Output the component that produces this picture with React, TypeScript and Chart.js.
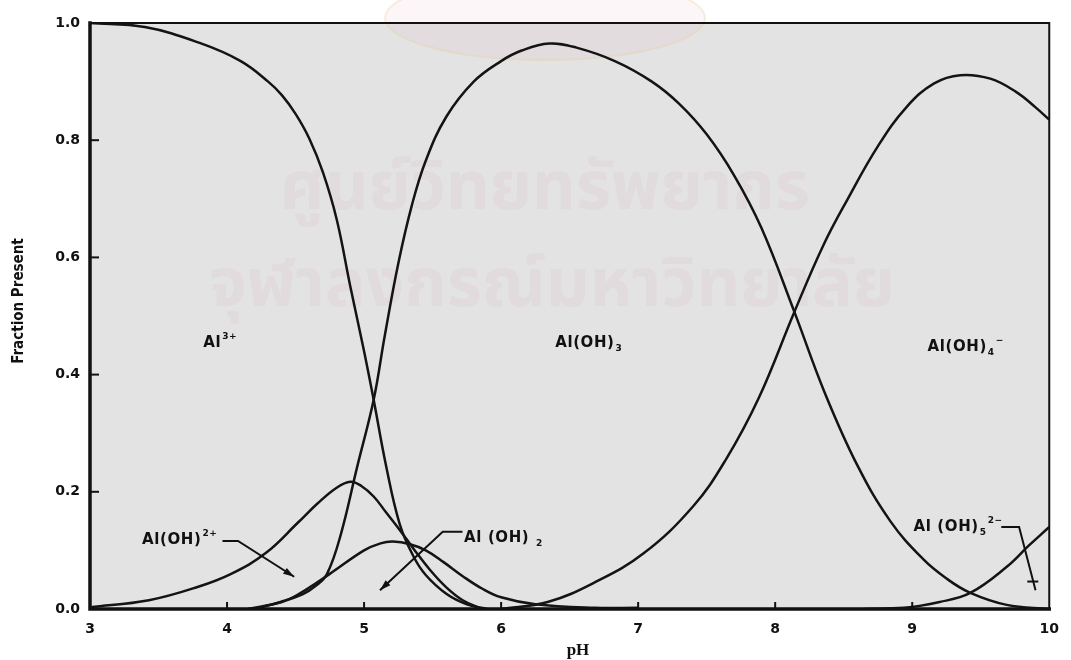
import { useEffect, useRef } from "react";
import { Chart, registerables } from "chart.js";

Chart.register(...registerables);

// Axis ticks
const phTicks = [3, 4, 5, 6, 7, 8, 9, 10];
const fractionTicks = [0, 0.2, 0.4, 0.6, 0.8, 1.0];

// Al3+
const al3pH = [3.0, 3.4, 3.8, 4.1, 4.3, 4.4, 4.5, 4.6, 4.7, 4.8, 4.9, 5.0, 5.07, 5.16, 5.26, 5.36, 5.45, 5.6, 5.75, 5.9];
const al3Frac = [1.0, 0.993, 0.966, 0.935, 0.9, 0.877, 0.845, 0.803, 0.745, 0.665, 0.55, 0.44, 0.357, 0.245, 0.145, 0.09, 0.058, 0.026, 0.008, 0.0];

// Al(OH)2+
const alOH2pH = [3.0, 3.43, 3.79, 4.03, 4.28, 4.52, 4.66, 4.8, 4.9, 4.98, 5.07, 5.16, 5.26, 5.37, 5.48, 5.6, 5.72, 5.86];
const alOH2Frac = [0.003, 0.015, 0.038, 0.06, 0.095, 0.148, 0.18, 0.207, 0.217, 0.21, 0.192, 0.165, 0.135, 0.1, 0.067, 0.037, 0.015, 0.0];

// Al(OH)2+ (dihydroxo)
const alOH2bpH = [4.15, 4.4, 4.52, 4.75, 5.0, 5.12, 5.21, 5.33, 5.45, 5.58, 5.72, 5.86, 6.0, 6.25, 6.68, 7.0];
const alOH2bFrac = [0.0, 0.012, 0.025, 0.06, 0.1, 0.112, 0.115, 0.111, 0.1, 0.08, 0.056, 0.035, 0.02, 0.008, 0.002, 0.002];

// Al(OH)3
const alOH3pH = [4.2, 4.39, 4.55, 4.65, 4.73, 4.83, 4.95, 5.07, 5.15, 5.25, 5.35, 5.45, 5.6, 5.8, 6.0, 6.15, 6.35, 6.55, 6.83, 7.1, 7.3, 7.5, 7.7, 7.9, 8.14, 8.36, 8.6, 8.84, 9.08, 9.25, 9.42, 9.69, 10.0];
const alOH3Frac = [0.0, 0.012, 0.025, 0.04, 0.06, 0.127, 0.243, 0.357, 0.465, 0.59, 0.69, 0.765, 0.84, 0.9, 0.935, 0.953, 0.965, 0.958, 0.935, 0.9, 0.862, 0.81, 0.74, 0.65, 0.507, 0.37, 0.245, 0.15, 0.085, 0.052, 0.028, 0.007, 0.0];

// Al(OH)4-
const alOH4pH = [6.0, 6.34, 6.68, 7.04, 7.4, 7.64, 7.88, 8.14, 8.35, 8.53, 8.75, 8.96, 9.16, 9.35, 9.57, 9.76, 9.9, 10.0];
const alOH4Frac = [0.0, 0.012, 0.045, 0.095, 0.175, 0.255, 0.36, 0.507, 0.62, 0.7, 0.79, 0.857, 0.897, 0.911, 0.905, 0.882, 0.856, 0.835];

// Al(OH)5 2-
const alOH5pH = [8.65, 8.94, 9.2, 9.42, 9.69, 9.85, 10.0];
const alOH5Frac = [0.0, 0.002, 0.012, 0.027, 0.072, 0.108, 0.14];

const seriesList = [
  { pH: al3pH, frac: al3Frac },
  { pH: alOH2pH, frac: alOH2Frac },
  { pH: alOH2bpH, frac: alOH2bFrac },
  { pH: alOH3pH, frac: alOH3Frac },
  { pH: alOH4pH, frac: alOH4Frac },
  { pH: alOH5pH, frac: alOH5Frac },
];

const LABEL_FONT = "'DejaVu Sans', 'Liberation Sans', sans-serif";
const TICK_FONT = "'DejaVu Sans', 'Liberation Sans', sans-serif";

type Part = [string, number];

// Species labels, anchored in data units (pH, fraction)
const speciesLabels: { parts: Part[]; x: number; y: number; align: "left" | "center" }[] = [
  { parts: [["Al", 0], ["3+", 1]], x: 3.95, y: 0.454, align: "center" },
  { parts: [["Al(OH)", 0], ["3", -1]], x: 6.64, y: 0.454, align: "center" },
  { parts: [["Al(OH)", 0], ["4", -1], ["\u2212", 1]], x: 9.39, y: 0.447, align: "center" },
  { parts: [["Al(OH)", 0], ["2+", 1]], x: 3.38, y: 0.118, align: "left" },
  { parts: [["Al (OH) ", 0], ["2", -1]], x: 5.73, y: 0.121, align: "left" },
  { parts: [["Al (OH)", 0], ["5", -1], ["2\u2212", 1]], x: 9.01, y: 0.14, align: "left" },
];

// Leader lines with heads: polyline in data units, last point is the tip
const leaders: { pts: [number, number][]; head: "arrow" | "tee" }[] = [
  { pts: [[3.967, 0.116], [4.08, 0.116], [4.49, 0.055]], head: "arrow" },
  { pts: [[5.718, 0.132], [5.574, 0.132], [5.116, 0.032]], head: "arrow" },
  { pts: [[9.65, 0.14], [9.78, 0.14], [9.9, 0.032]], head: "tee" },
];

function drawChem(ctx: any, parts: Part[], x: number, y: number, size: number, align: string) {
  const small = Math.round(size * 0.62);
  ctx.letterSpacing = "0.6px";
  const fontOf = (p: Part) => `bold ${p[1] === 0 ? size : small}px ${LABEL_FONT}`;
  let total = 0;
  parts.forEach((p) => {
    ctx.font = fontOf(p);
    total += ctx.measureText(p[0]).width + (p[1] !== 0 ? 1 : 0);
  });
  let cx = align === "center" ? x - total / 2 : x;
  ctx.textBaseline = "middle";
  ctx.textAlign = "left";
  parts.forEach((p) => {
    ctx.font = fontOf(p);
    const dy = p[1] === 1 ? -size * 0.42 : p[1] === -1 ? size * 0.38 : 0;
    ctx.fillText(p[0], cx + (p[1] !== 0 ? 1 : 0), y + dy);
    cx += ctx.measureText(p[0]).width + (p[1] !== 0 ? 1 : 0);
  });
  ctx.letterSpacing = "0px";
}

const paperPlugin = {
  id: "paper",
  beforeDraw(chart: any) {
    const { ctx, chartArea: a } = chart;
    ctx.save();
    ctx.fillStyle = "#ffffff";
    ctx.fillRect(0, 0, chart.width, chart.height);
    ctx.fillStyle = "#e3e3e3";
    ctx.fillRect(a.left, a.top, a.right - a.left, a.bottom - a.top);
    // faint library stamp
    ctx.fillStyle = "rgba(230, 170, 200, 0.10)";
    ctx.strokeStyle = "rgba(230, 205, 150, 0.30)";
    ctx.lineWidth = 2;
    ctx.beginPath();
    ctx.ellipse(545, 18, 160, 42, 0, 0, Math.PI * 2);
    ctx.fill();
    ctx.stroke();
    ctx.fillStyle = "rgba(200, 120, 160, 0.07)";
    ctx.textAlign = "center";
    ctx.textBaseline = "middle";
    ctx.font = "bold 68px 'Noto Sans Thai', 'Noto Sans', sans-serif";
    ctx.fillText("ศูนย์วิทยทรัพยากร", 545, 195);
    ctx.fillText("จุฬาลงกรณ์มหาวิทยาลัย", 552, 292);
    ctx.restore();
  },
  afterDatasetsDraw(chart: any) {
    const { ctx, chartArea: a, scales } = chart;
    const xs = scales.x;
    const ys = scales.y;
    ctx.save();
    ctx.strokeStyle = "#111";
    ctx.lineCap = "square";
    // frame
    ctx.lineWidth = 2;
    ctx.beginPath();
    ctx.moveTo(a.left, a.top);
    ctx.lineTo(a.right, a.top);
    ctx.lineTo(a.right, a.bottom);
    ctx.stroke();
    ctx.lineWidth = 3.5;
    ctx.beginPath();
    ctx.moveTo(a.left, a.top);
    ctx.lineTo(a.left, a.bottom);
    ctx.lineTo(a.right, a.bottom);
    ctx.stroke();
    // inward tick marks
    ctx.lineWidth = 2;
    fractionTicks.forEach((v) => {
      if (v <= 0 || v >= 1) return;
      const py = ys.getPixelForValue(v);
      ctx.beginPath();
      ctx.moveTo(a.left, py);
      ctx.lineTo(a.left + 8, py);
      ctx.stroke();
    });
    phTicks.forEach((v) => {
      if (v <= 3 || v >= 10) return;
      const px = xs.getPixelForValue(v);
      ctx.beginPath();
      ctx.moveTo(px, a.bottom);
      ctx.lineTo(px, a.bottom - 6);
      ctx.stroke();
    });

    // leader lines
    ctx.lineWidth = 2;
    ctx.lineCap = "butt";
    ctx.fillStyle = "#111";
    leaders.forEach((ld) => {
      const pts = ld.pts.map(([x, y]) => [xs.getPixelForValue(x), ys.getPixelForValue(y)]);
      ctx.beginPath();
      pts.forEach(([x, y], i) => (i === 0 ? ctx.moveTo(x, y) : ctx.lineTo(x, y)));
      ctx.stroke();
      const [tx, ty] = pts[pts.length - 1];
      const [fx, fy] = pts[pts.length - 2];
      const ang = Math.atan2(ty - fy, tx - fx);
      if (ld.head === "arrow") {
        const len = 11, half = 3.5;
        ctx.beginPath();
        ctx.moveTo(tx, ty);
        ctx.lineTo(tx - len * Math.cos(ang) + half * Math.sin(ang), ty - len * Math.sin(ang) - half * Math.cos(ang));
        ctx.lineTo(tx - len * Math.cos(ang) - half * Math.sin(ang), ty - len * Math.sin(ang) + half * Math.cos(ang));
        ctx.closePath();
        ctx.fill();
      } else {
        const bx = tx - 9 * Math.cos(ang);
        const by = ty - 9 * Math.sin(ang);
        ctx.beginPath();
        ctx.moveTo(bx - 6, by);
        ctx.lineTo(bx + 5, by);
        ctx.stroke();
      }
    });

    // species labels
    ctx.fillStyle = "#111";
    speciesLabels.forEach((l) => {
      drawChem(ctx, l.parts, xs.getPixelForValue(l.x), ys.getPixelForValue(l.y), 15, l.align);
    });

    // axis titles
    ctx.fillStyle = "#111";
    ctx.textAlign = "center";
    ctx.textBaseline = "middle";
    ctx.font = "bold 17px 'Liberation Serif', serif";
    ctx.fillText("pH", 578, 651);
    ctx.save();
    ctx.translate(19, 301);
    ctx.rotate(-Math.PI / 2);
    ctx.font = "bold 15px 'Liberation Sans Narrow', 'DejaVu Sans Condensed', 'Liberation Sans', sans-serif";
    ctx.fillText("Fraction Present", 0, 0);
    ctx.restore();
    ctx.restore();
  },
};

export default function App() {
  const canvasRef = useRef<HTMLCanvasElement | null>(null);

  useEffect(() => {
    if (!canvasRef.current) return;
    const chart = new Chart(canvasRef.current, {
      type: "scatter",
      data: {
        datasets: seriesList.map((s) => ({
          data: s.pH.map((x, i) => ({ x, y: s.frac[i] })),
          showLine: true,
          borderColor: "#141414",
          borderWidth: 2.5,
          pointRadius: 0,
          tension: 0.4,
          fill: false,
        })),
      },
      options: {
        animation: false,
        responsive: false,
        devicePixelRatio: 1,
        layout: { padding: { top: 23, right: 11, left: 0, bottom: 0 } },
        plugins: { legend: { display: false }, tooltip: { enabled: false } },
        scales: {
          x: {
            type: "linear",
            min: 3,
            max: 10,
            afterBuildTicks: (s: any) => {
              s.ticks = phTicks.map((v) => ({ value: v }));
            },
            afterFit: (s: any) => {
              s.height = 51;
            },
            grid: { display: false, drawTicks: false },
            border: { display: false },
            ticks: {
              color: "#111",
              padding: 12,
              autoSkip: false,
              maxRotation: 0,
              font: { family: TICK_FONT, size: 14, weight: "bold" },
            },
          },
          y: {
            type: "linear",
            min: 0,
            max: 1,
            afterBuildTicks: (s: any) => {
              s.ticks = fractionTicks.map((v) => ({ value: v }));
            },
            afterFit: (s: any) => {
              s.width = 90;
            },
            grid: { display: false, drawTicks: false },
            border: { display: false },
            ticks: {
              color: "#111",
              padding: 10,
              callback: (v: any) => Number(v).toFixed(1),
              font: { family: TICK_FONT, size: 14, weight: "bold" },
            },
          },
        },
      },
      plugins: [paperPlugin],
    });
    return () => chart.destroy();
  }, []);

  return (
    <div style={{ position: "absolute", left: 0, top: 0, width: 1071, height: 660 }}>
      <canvas ref={canvasRef} width={1071} height={660} />
    </div>
  );
}
